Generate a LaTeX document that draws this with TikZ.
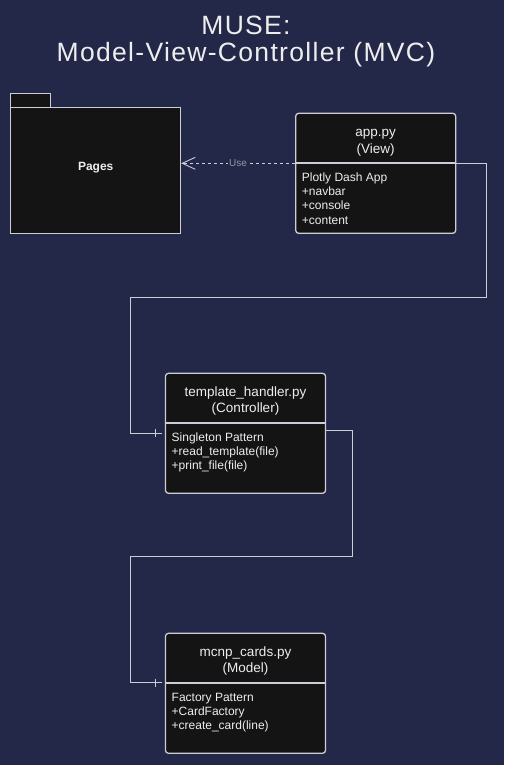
\documentclass[tikz,border=0pt]{standalone}
\usepackage{fontspec}
\setmainfont{Liberation Sans}
\newfontfamily\titlefont[LetterSpace=5]{Liberation Sans}
\usetikzlibrary{arrows.meta}
\definecolor{bgc}{RGB}{35,39,72}
\definecolor{boxfill}{RGB}{20,20,20}
\definecolor{edge}{RGB}{205,205,215}
\definecolor{txt}{RGB}{238,238,238}
\definecolor{usec}{RGB}{150,150,165}
\begin{document}
\begin{tikzpicture}[x=1pt,y=-1pt,
  umlbox/.style={draw=edge, fill=boxfill, line width=1.3pt, rounded corners=3pt, minimum width=160pt, minimum height=120pt, inner sep=0pt},
  pkg/.style={draw=edge, fill=boxfill, line width=1pt, inner sep=0pt},
  divider/.style={draw=edge, line width=1.8pt},
  title/.style={text=txt, font=\titlefont\fontsize{26.5}{30}\selectfont, inner sep=0pt, anchor=base},
  head/.style={text=txt, font=\fontsize{13.5}{16}\selectfont, inner sep=0pt, anchor=base},
  body/.style={text=txt, font=\fontsize{12}{14}\selectfont, inner sep=0pt, anchor=base west},
  conn/.style={draw=edge, line width=0.9pt},
  dep/.style={draw=edge, line width=0.9pt, dash pattern=on 3pt off 3pt, -{Straight Barb[length=13pt,width=12pt]}},
  uselbl/.style={fill=bgc, text=usec, font=\fontsize{10}{12}\selectfont, inner sep=1pt}
]
\fill[bgc] (0,0) rectangle (504,765);
\useasboundingbox (0,0) rectangle (504,765);

% title
\node[title] (t1) at (246,35) {MUSE:};
\node[title] (t2) at (246,61.7) {Model-View-Controller (MVC)};

% Pages package
\node[pkg, minimum width=39.6pt, minimum height=14pt] (pagestab) at (30.5,100.3) {};
\node[pkg, minimum width=170pt, minimum height=126pt] (pages) at (95.7,170.3) {};
\node[text=txt, font=\bfseries\fontsize{12}{14}\selectfont, inner sep=0pt] (pageslbl) at (95.7,167.5) {Pages};

% app.py (View)
\node[umlbox] (app) at (375.7,173.3) {};
\coordinate (appdiv) at (375.7,163.3);
\draw[divider] (app.west |- appdiv) -- (app.east |- appdiv);
\node[head] (apph1) at (375.7,136.8) {app.py};
\node[head] (apph2) at (375.7,153.3) {(View)};
\node[body] (appb1) at (301.7,181) {Plotly Dash App};
\node[body] (appb2) at (301.7,195.3) {+navbar};
\node[body] (appb3) at (301.7,209.7) {+console};
\node[body] (appb4) at (301.7,224) {+content};

% template_handler.py (Controller)
\node[umlbox] (tmpl) at (245.5,433.3) {};
\coordinate (tmpldiv) at (245.5,423.3);
\draw[divider] (tmpl.west |- tmpldiv) -- (tmpl.east |- tmpldiv);
\node[head] (tmplh1) at (245.5,396.3) {template\_handler.py};
\node[head] (tmplh2) at (245.5,412.7) {(Controller)};
\node[body] (tmplb1) at (171.5,441) {Singleton Pattern};
\node[body] (tmplb2) at (171.5,455.3) {+read\_template(file)};
\node[body] (tmplb3) at (171.5,469.7) {+print\_file(file)};

% mcnp_cards.py (Model)
\node[umlbox] (model) at (245.5,693.3) {};
\coordinate (modeldiv) at (245.5,683.3);
\draw[divider] (model.west |- modeldiv) -- (model.east |- modeldiv);
\node[head] (modelh1) at (245.5,656.3) {mcnp\_cards.py};
\node[head] (modelh2) at (245.5,672.7) {(Model)};
\node[body] (modelb1) at (171.5,701) {Factory Pattern};
\node[body] (modelb2) at (171.5,715.3) {+CardFactory};
\node[body] (modelb3) at (171.5,729.7) {+create\_card(line)};

% dependency app -> Pages
\draw[dep] (app.west |- appdiv) -- node[uselbl] (uselabel) {Use} (pages.east |- appdiv);

% app -> template
\coordinate (r1) at (486,297);
\coordinate (l1) at (130,297);
\coordinate (tin) at (165.7,433);
\draw[conn] (app.east |- appdiv) -| (r1) -- (l1) |- ([xshift=-4pt]tin);
\draw[conn] ([xshift=-10pt]tin) ++(0,-4) -- ++(0,8);

% template -> model
\coordinate (tout) at (325.3,430);
\coordinate (r2) at (352.3,556);
\coordinate (l2) at (130,556);
\coordinate (min) at (165.7,682.5);
\draw[conn] (tout) -| (r2) -- (l2) |- ([xshift=-4pt]min);
\draw[conn] ([xshift=-10pt]min) ++(0,-4) -- ++(0,8);
\end{tikzpicture}
\end{document}
